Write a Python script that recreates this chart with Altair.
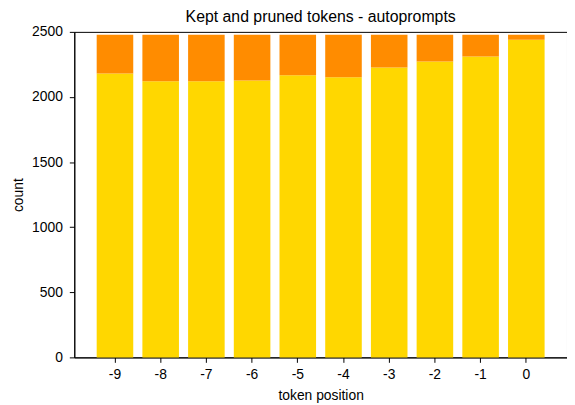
import altair as alt
import pandas as pd

positions = ["-9", "-8", "-7", "-6", "-5", "-4", "-3", "-2", "-1", "0"]
kept = [2181, 2120, 2120, 2127, 2167, 2151, 2226, 2272, 2310, 2439]
total = [2477] * 10
pruned = [t - k for t, k in zip(total, kept)]

rows = []
for p, k, pr in zip(positions, kept, pruned):
    rows.append({"pos": p, "kind": "kept", "count": k, "ord": 0})
    rows.append({"pos": p, "kind": "pruned", "count": pr, "ord": 1})
df = pd.DataFrame(rows)

font = "Liberation Sans"

chart = alt.Chart(df).mark_bar().encode(
    x=alt.X("pos:N", sort=positions, title="token position",
            scale=alt.Scale(paddingInner=0.2, paddingOuter=0.49),
            axis=alt.Axis(labelAngle=0, labelPadding=5, titlePadding=8)),
    y=alt.Y("count:Q", stack="zero", title="count",
            scale=alt.Scale(domain=[0, 2500], nice=False),
            axis=alt.Axis(values=[0, 500, 1000, 1500, 2000, 2500], format="d",
                          labelPadding=7, titlePadding=6)),
    color=alt.Color("kind:N", scale=alt.Scale(domain=["kept", "pruned"], range=["#FFD700", "#FF8C00"]), legend=None),
    order=alt.Order("ord:Q"),
).properties(
    width=498,
    height=329,
    title=alt.TitleParams("Kept and pruned tokens - autoprompts", font=font, fontSize=16,
                          fontWeight="normal", color="black", offset=0, anchor="middle"),
    autosize="none",
    padding={"left": 67, "top": 22, "right": 0, "bottom": 46},
).configure_view(
    stroke="black", strokeWidth=1
).configure_axis(
    grid=False, domainColor="black", tickColor="black", tickSize=5,
    labelFont=font, labelFontSize=14, labelColor="black",
    titleFont=font, titleFontSize=14, titleFontWeight="normal", titleColor="black",
    labelFlush=False,
)

chart.save("out.html", embed_options={"renderer": "svg", "actions": False})
